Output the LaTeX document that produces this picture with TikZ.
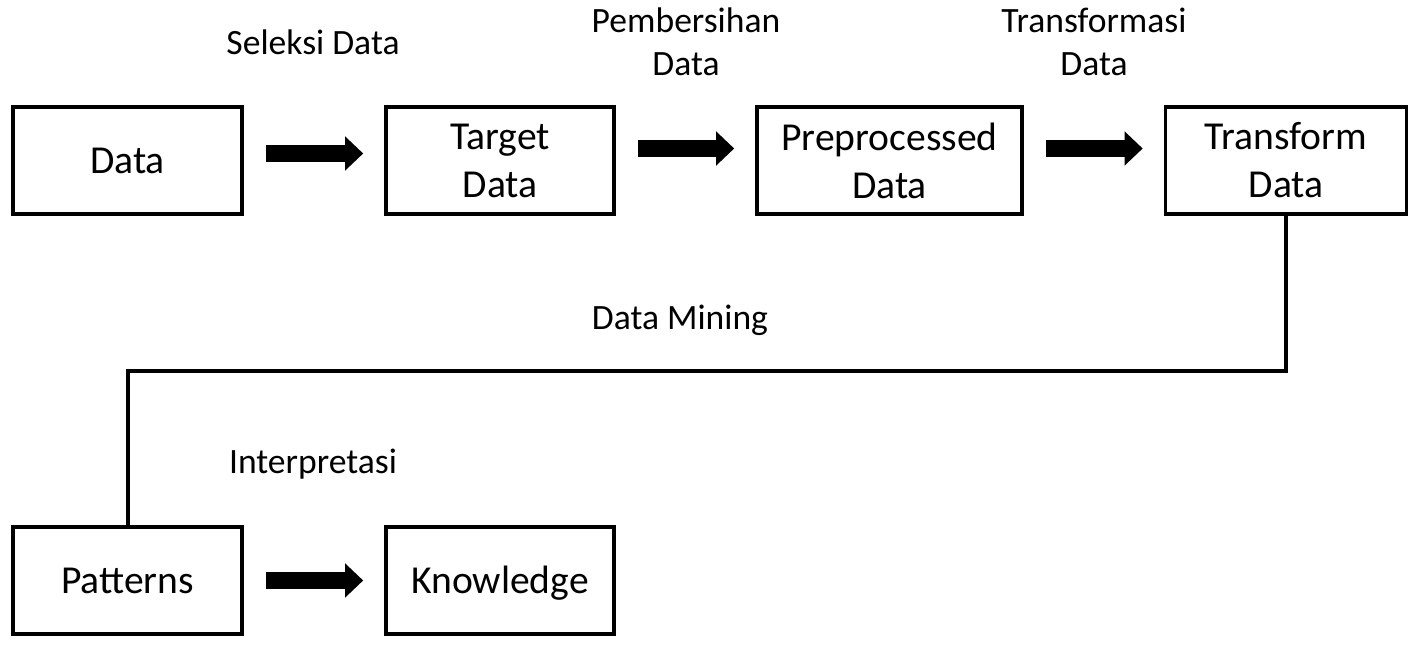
\documentclass[tikz,border=0pt]{standalone}
\usepackage{fontspec}
\setmainfont{Carlito}
\usetikzlibrary{arrows.meta}

\tikzset{
	kotak/.style={draw,line width=1.8pt,minimum height=53.5pt,align=center,inner sep=0pt,font=\fontsize{19.8}{24}\selectfont},
	satu/.style={text height=12.75pt,text depth=0pt},
	label/.style={align=center,font=\fontsize{17.8}{21.5}\selectfont},
	panah/.style={line width=8.5pt,-{Triangle[length=9pt,width=16.5pt]},shorten <=11pt,shorten >=10.5pt},
	garis/.style={line width=2pt}
}

\begin{document}
\begin{tikzpicture} [x=0.5pt,y=-0.5pt]
			\useasboundingbox (0,0) rectangle (1420,663);
			
			\node[kotak,satu,minimum width=114.5pt] (data) at (127.5,160.5) {Data};
			\node[kotak,minimum width=114pt] (target) at (500,160.5) {Target\\Data};
			\node[kotak,minimum width=132.5pt] (prep) at (889.5,160.5) {Preprocessed\\Data};
			\node[kotak,minimum width=120.5pt] (transform) at (1286,160.5) {Transform\\Data};
			\node[kotak,satu,minimum width=114.5pt] (patterns) at (127.5,580.5) {Patterns};
			\node[kotak,satu,minimum width=114pt] (knowledge) at (500,580.5) {Knowledge};
			
			\node[label] (seleksi) at (313,42) {Seleksi Data};
			\node[label] (bersih) at (686,42) {Pembersihan\\Data};
			\node[label] (transformasi) at (1094,42) {Transformasi\\Data};
			\node[label] (mining) at (680,320) {Data Mining};
			\node[label] (interpretasi) at (313,464) {Interpretasi};
			
			\draw[panah] ([yshift=3.5pt]data.east) -- ([yshift=3.5pt]target.west);
			\draw[panah] ([yshift=6pt]target.east) -- ([yshift=6pt]prep.west);
			\draw[panah] ([yshift=6pt]prep.east) -- ([yshift=6pt]transform.west);
			\draw[panah] (patterns) -- (knowledge);
			
			\coordinate (belok) at (700,371);
			\draw[garis] (transform.south) |- (belok) -| (patterns.north);
			\end{tikzpicture}
\end{document}
